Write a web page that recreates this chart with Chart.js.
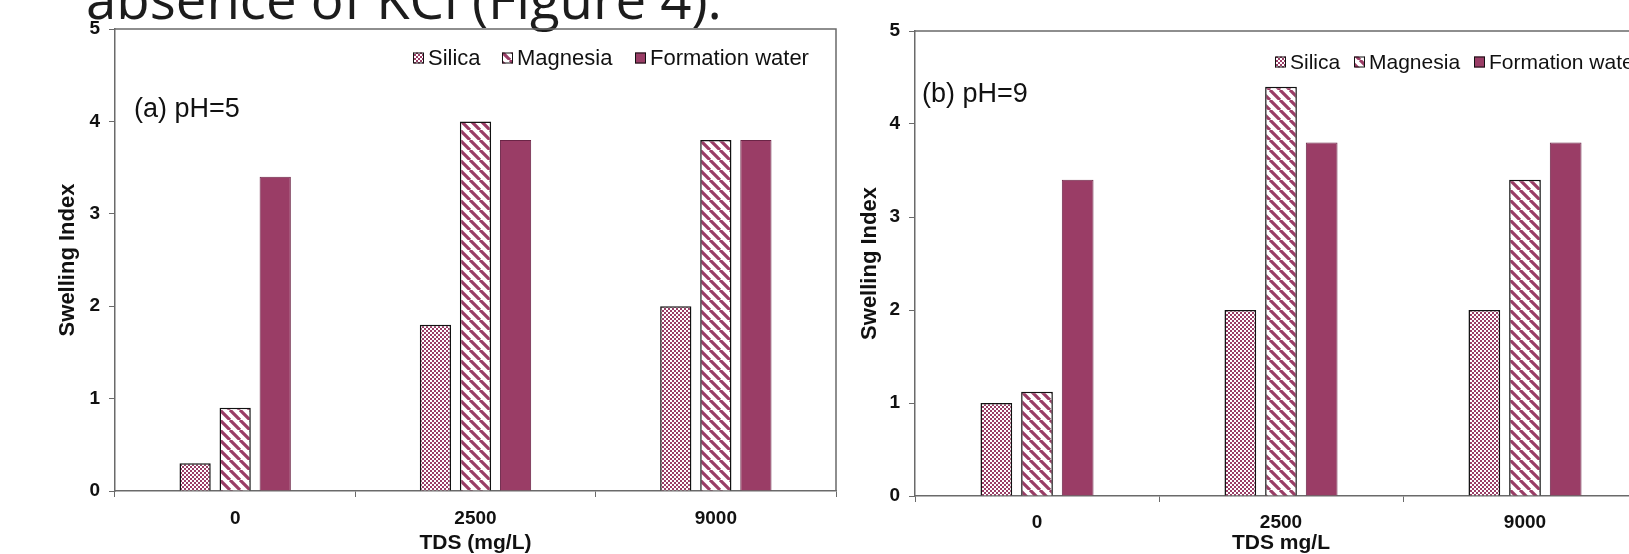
<!DOCTYPE html>
<html>
<head>
<meta charset="utf-8">
<script src="https://cdn.jsdelivr.net/npm/chart.js@4.4.0/dist/chart.umd.min.js"></script>
<style>
  html, body { margin: 0; padding: 0; background: #fff; overflow: hidden; width: 1629px; height: 554px; }
  #page { position: relative; width: 1629px; height: 554px; overflow: hidden; background: #fff; }
  #caption {
    position: absolute; left: 86px; top: -27px;
    font-family: 'Open Sans', sans-serif; font-size: 46px; line-height: 46px;
    color: #1c1c1c; white-space: nowrap;
  }
  #chartA { position: absolute; left: 0; top: 0; }
  #chartB { position: absolute; left: 800px; top: 0; }
</style>
</head>
<body>
<div id="page">
  <div id="caption">absence of KCl (Figure 4).</div>
  <canvas id="chartA" width="850" height="554"></canvas>
  <canvas id="chartB" width="860" height="554"></canvas>
</div>
<script>
'use strict';
/* global Chart */

// ── Data ────────────────────────────────────────────────────
const tdsLabels   = ['0', '2500', '9000'];
const seriesNames = ['Silica', 'Magnesia', 'Formation water'];
const yTicks      = [0, 1, 2, 3, 4, 5];

// (a) pH=5
const silicaA    = [0.3, 1.8, 2.0];
const magnesiaA  = [0.9, 4.0, 3.8];
const formationA = [3.4, 3.8, 3.8];

// (b) pH=9
const silicaB    = [1.0, 2.0, 2.0];
const magnesiaB  = [1.12, 4.4, 3.4];
const formationB = [3.4, 3.8, 3.8];

// ── Style ───────────────────────────────────────────────────
const MAROON = '#9a3d66';
const FONT   = "'Liberation Sans', Arial, sans-serif";
const AXIS   = '#6a6a6a';

// fit the clipped caption line to the width seen in the page
(function fitCaption() {
  const el = document.getElementById('caption');
  const size = 46 * 636 / el.offsetWidth;
  el.style.fontSize = size + 'px';
  el.style.lineHeight = size + 'px';
  el.style.top = (19 - 0.888 * size) + 'px';
})();

function checkerPattern(ctx) {
  const c = document.createElement('canvas');
  c.width = 4; c.height = 4;
  const g = c.getContext('2d');
  g.fillStyle = '#fff';
  g.fillRect(0, 0, 4, 4);
  g.fillStyle = MAROON;
  g.fillRect(0, 0, 2, 2);
  g.fillRect(2, 2, 2, 2);
  return ctx.createPattern(c, 'repeat');
}

function stripePattern(ctx) {
  const n = 10;
  const c = document.createElement('canvas');
  c.width = n; c.height = n;
  const g = c.getContext('2d');
  g.fillStyle = '#fff';
  g.fillRect(0, 0, n, n);
  g.strokeStyle = MAROON;
  g.lineWidth = 3.2;
  g.beginPath();
  for (let k = -n; k <= n; k += n) {
    g.moveTo(k, 0);
    g.lineTo(k + n, n);
  }
  g.stroke();
  return ctx.createPattern(c, 'repeat');
}

// top + right frame of the plot area
const framePlugin = {
  id: 'frame',
  beforeDatasetsDraw(chart) {
    const { ctx, chartArea: a } = chart;
    ctx.save();
    ctx.strokeStyle = AXIS;
    ctx.lineWidth = 1.5;
    ctx.beginPath();
    ctx.moveTo(a.left, a.top);
    ctx.lineTo(a.right, a.top);
    ctx.lineTo(a.right, a.bottom);
    ctx.stroke();
    ctx.restore();
  }
};

// legend row + panel label, drawn inside the plot
const legendPlugin = {
  id: 'swellLegend',
  afterDraw(chart, args, o) {
    const ctx = chart.ctx;
    ctx.save();
    ctx.textBaseline = 'middle';
    ctx.font = `${o.fontSize}px ${FONT}`;
    chart.data.datasets.forEach((ds, i) => {
      const x = o.xs[i];
      ctx.fillStyle = ds.backgroundColor;
      ctx.fillRect(x, o.y - 5.5, 11, 11);
      ctx.strokeStyle = '#111';
      ctx.lineWidth = 1;
      ctx.strokeRect(x + 0.5, o.y - 5, 10, 10);
      ctx.fillStyle = '#111';
      ctx.fillText(ds.label, x + 15, o.y + 1);
    });
    ctx.font = `27px ${FONT}`;
    ctx.fillText(o.panel, o.panelX, o.panelY);
    ctx.restore();
  }
};

function buildChart(id, silica, magnesia, formation, cfg) {
  const canvas = document.getElementById(id);
  const ctx = canvas.getContext('2d');

  return new Chart(ctx, {
    type: 'bar',
    data: {
      labels: tdsLabels,
      datasets: [
        { label: seriesNames[0], data: silica,    backgroundColor: checkerPattern(ctx), borderColor: '#111', borderWidth: 1.5 },
        { label: seriesNames[1], data: magnesia,  backgroundColor: stripePattern(ctx),  borderColor: '#111', borderWidth: 1.5 },
        { label: seriesNames[2], data: formation, backgroundColor: MAROON,              borderColor: '#6b2446', borderWidth: 1 },
      ]
    },
    options: {
      responsive: false,
      devicePixelRatio: 1,
      animation: false,
      layout: { padding: { top: cfg.top, right: cfg.right, left: 0, bottom: 0 } },
      datasets: { bar: { categoryPercentage: 0.5, barPercentage: 0.78 } },
      plugins: {
        legend: { display: false },
        tooltip: { enabled: false },
        swellLegend: cfg.legend,
      },
      scales: {
        x: {
          ticks: { color: '#111', font: { family: FONT, size: 19, weight: 'bold' }, padding: cfg.xPad },
          grid: { drawOnChartArea: false, tickLength: 6, color: AXIS, offset: true },
          border: { color: AXIS, width: 1.5 },
          title: {
            display: true, text: cfg.xTitle, color: '#111',
            font: { family: FONT, size: 21, weight: 'bold', lineHeight: 1.0 },
            padding: { top: 0, bottom: 0 }
          },
          afterFit: s => { s.height = cfg.xHeight; }
        },
        y: {
          min: 0, max: 5,
          afterBuildTicks: s => { s.ticks = yTicks.map(v => ({ value: v })); },
          ticks: { color: '#111', font: { family: FONT, size: 19, weight: 'bold' }, padding: 9 },
          grid: { drawOnChartArea: false, tickLength: 6, color: AXIS },
          border: { color: AXIS, width: 1.5 },
          title: {
            display: true, text: 'Swelling Index', color: '#111',
            font: { family: FONT, size: 22, weight: 'bold' },
            padding: { top: cfg.yTitlePad, bottom: 0 }
          },
          afterFit: s => { s.width = 115; }
        }
      }
    },
    plugins: [framePlugin, legendPlugin]
  });
}

buildChart('chartA', silicaA, magnesiaA, formationA, {
  top: 29, right: 14, xHeight: 63, xPad: 10, yTitlePad: 55,
  xTitle: 'TDS (mg/L)',
  legend: { y: 58, xs: [413, 502, 635], fontSize: 22, panel: '(a) pH=5', panelX: 134, panelY: 110 }
});

buildChart('chartB', silicaB, magnesiaB, formationB, {
  top: 31, right: 13, xHeight: 58, xPad: 9, yTitlePad: 57,
  xTitle: 'TDS mg/L',
  legend: { y: 62, xs: [475, 554, 674], fontSize: 21, panel: '(b) pH=9', panelX: 122, panelY: 95 }
});
</script>
</body>
</html>
